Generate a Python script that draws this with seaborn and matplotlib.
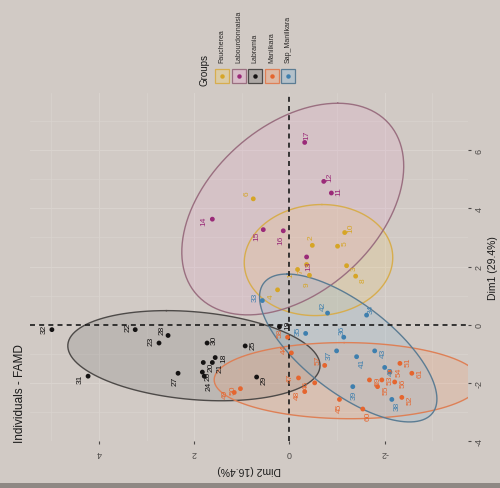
import numpy as np
import pandas as pd
import matplotlib
matplotlib.use("Agg")
import matplotlib.pyplot as plt
import seaborn as sns
from matplotlib.patches import Rectangle

# ---- data: FAMD individual coordinates (Dim1, Dim2) by group ----
groups = ["Faucherea", "Labourdonnaisia", "Labramia", "Manilkara", "Sap_Manilkara"]

faucherea_id = [1, 2, 3, 4, 5, 6, 7, 8, 9, 10]
faucherea_dim1 = [1.90, 2.73, 2.03, 1.20, 2.70, 4.33, 2.07, 1.67, 1.70, 3.17]
faucherea_dim2 = [-0.17, -0.48, -1.20, 0.25, -1.01, 0.76, -0.36, -1.39, -0.42, -1.16]

labourdonnaisia_id = [11, 12, 13, 14, 15, 16, 17]
labourdonnaisia_dim1 = [4.53, 4.93, 2.33, 3.63, 3.27, 3.23, 6.27]
labourdonnaisia_dim2 = [-0.88, -0.72, -0.36, 1.62, 0.55, 0.13, -0.32]

labramia_id = [18, 19, 20, 21, 22, 23, 24, 25, 26, 27, 28, 29, 30, 31, 32]
labramia_dim1 = [-1.13, -0.07, -1.30, -1.30, -0.17, -0.63, -1.77, -0.73,
                 -1.63, -1.67, -0.37, -1.80, -0.63, -1.77, -0.17]
labramia_dim2 = [1.56, 0.21, 1.81, 1.62, 3.24, 2.74, 1.79, 0.93,
                 1.83, 2.34, 2.55, 0.69, 1.73, 4.23, 4.99]

sap_id = [33, 34, 35, 36, 37, 38, 39, 40, 41, 42, 43]
sap_dim1 = [0.83, 0.33, -0.30, -0.43, -0.90, -2.57, -2.13, -1.47, -1.10, 0.40, -0.90]
sap_dim2 = [0.57, -1.62, -0.34, -1.14, -0.99, -2.15, -1.33, -2.00, -1.41, -0.80, -1.79]

manilkara_id = [44, 45, 46, 47, 48, 49, 50, 51, 52, 53, 54, 55, 56, 57, 58, 59, 60, 61]
manilkara_dim1 = [-0.97, -2.57, -2.00, -1.83, -2.30, -2.33, -2.20, -1.33, -2.50,
                  -1.90, -1.63, -2.13, -1.97, -1.40, -0.43, -1.90, -2.90, -1.67]
manilkara_dim2 = [-0.04, -1.05, -0.53, -0.19, -0.32, 1.16, 1.03, -2.32, -2.36,
                  -1.94, -2.11, -1.85, -2.21, -0.74, 0.04, -1.68, -1.54, -2.57]

dim1_ticks = [-4, -2, 0, 2, 4, 6]
dim2_ticks = [-2, 0, 2, 4]

point_colors = {"Faucherea": "#d6a526", "Labourdonnaisia": "#9a2a78",
                "Labramia": "#151313", "Manilkara": "#e5652e",
                "Sap_Manilkara": "#3e7fae"}
line_colors = {"Faucherea": "#d7ad4e", "Labourdonnaisia": "#9a6f80",
               "Labramia": "#4d4a48", "Manilkara": "#de8056",
               "Sap_Manilkara": "#5b7c93"}
fill_colors = {"Faucherea": "#f0cd6a", "Labourdonnaisia": "#e7a3cf",
               "Labramia": "#6b6b6b", "Manilkara": "#f59a6a",
               "Sap_Manilkara": "#7fb2d6"}

frames = []
for g, ids, d1, d2 in [
    ("Faucherea", faucherea_id, faucherea_dim1, faucherea_dim2),
    ("Labourdonnaisia", labourdonnaisia_id, labourdonnaisia_dim1, labourdonnaisia_dim2),
    ("Labramia", labramia_id, labramia_dim1, labramia_dim2),
    ("Manilkara", manilkara_id, manilkara_dim1, manilkara_dim2),
    ("Sap_Manilkara", sap_id, sap_dim1, sap_dim2),
]:
    frames.append(pd.DataFrame({"id": ids, "group": g, "dim1": d1, "dim2": d2}))
df = pd.concat(frames, ignore_index=True)


def cov_trob(x, nu=5, maxit=25, tol=0.01):
    """Multivariate-t robust location/scatter (as MASS::cov.trob)."""
    n, p = x.shape
    loc = x.mean(axis=0)
    w = np.ones(n)
    for _ in range(maxit):
        w0 = w
        X = x - loc
        _, d, vt = np.linalg.svd(np.sqrt(w / w.sum())[:, None] * X, full_matrices=False)
        wX = X @ vt.T @ np.diag(1 / d)
        Q = (wX ** 2).sum(axis=1)
        w = (nu + p) / (nu + Q)
        loc = (w[:, None] * x).sum(axis=0) / w.sum()
        if np.all(np.abs(w - w0) < tol):
            break
    X = x - loc
    cov = (np.sqrt(w)[:, None] * X).T @ (np.sqrt(w)[:, None] * X) / n
    return loc, cov


def t_ellipse(x, y, level=0.95, segments=120):
    """Data ellipse as drawn by stat_ellipse(type='t')."""
    pts = np.column_stack([x, y])
    n = len(pts)
    center, cov = cov_trob(pts)
    dfd = n - 1
    qf = dfd / 2.0 * ((1 - level) ** (-2.0 / dfd) - 1)   # F(level; 2, dfd)
    radius = np.sqrt(2 * qf)
    t = np.linspace(0, 2 * np.pi, segments)
    unit = np.column_stack([np.cos(t), np.sin(t)])
    upper = np.linalg.cholesky(cov).T
    return center + radius * unit @ upper


bg = "#d1cac5"
plt.rcParams["font.family"] = ["Liberation Sans", "DejaVu Sans"]

W, H = 500, 489
DPI = 100
fig = plt.figure(figsize=(W / DPI, H / DPI), dpi=DPI, facecolor=bg)


def fx(px):
    return px / W


def fy(py):
    return 1 - py / H


# The page is viewed turned a quarter turn: Dim1 runs upward, Dim2 runs leftward.
ax = fig.add_axes([fx(30), fy(442), fx(468) - fx(30), fy(94) - fy(442)])
ax.set_facecolor(bg)
for s in ax.spines.values():
    s.set_visible(False)

ax.set_xlim(5.45, -3.75)
ax.set_ylim(-3.63, 7.97)

# grid (theme_minimal style)
for v in np.arange(-3, 6, 1.0):
    ax.axvline(v, color="#d9d3ce", lw=0.5 if v % 2 else 0.8, zorder=0)
for v in np.arange(-3, 8, 1.0):
    ax.axhline(v, color="#d9d3ce", lw=0.5 if v % 2 else 0.8, zorder=0)

# ellipses
for g in groups:
    sub = df[df.group == g]
    e = t_ellipse(sub.dim1.values, sub.dim2.values)
    ax.fill(e[:, 1], e[:, 0], color=fill_colors[g], alpha=0.2, lw=0, zorder=1)
    ax.plot(e[:, 1], e[:, 0], color=line_colors[g], lw=1.0, zorder=2)

# reference lines
ax.axhline(0, color="#1a1a1a", ls=(0, (3, 2.5)), lw=1.2, zorder=3)
ax.axvline(0, color="#1a1a1a", ls=(0, (3, 2.5)), lw=1.2, zorder=3)

sns.scatterplot(data=df, x="dim2", y="dim1", hue="group", hue_order=groups,
                palette=point_colors, s=12, edgecolor="none", legend=False,
                ax=ax, zorder=4)

# labels, pushed away from each group's centre, then spread apart
fig.canvas.draw()
tr = ax.transData
anns = []
for g in groups:
    sub = df[df.group == g]
    c = tr.transform(np.column_stack([sub.dim2.mean(), sub.dim1.mean()]))[0]
    for _, r in sub.iterrows():
        p = tr.transform((r.dim2, r.dim1))
        d = p - c
        n = np.hypot(*d)
        d = np.array([-0.6, 0.8]) if n < 4 else d / n
        anns.append(ax.annotate(str(int(r.id)), (r.dim2, r.dim1),
                                xytext=(d[0] * 6, d[1] * 6), textcoords="offset points",
                                rotation=90, fontsize=6, color=point_colors[g],
                                ha="center", va="center", zorder=5))

renderer = fig.canvas.get_renderer()
px2pt = 72.0 / DPI
for _ in range(80):
    boxes = [a.get_window_extent(renderer) for a in anns]
    shifts = np.zeros((len(anns), 2))
    for i in range(len(anns)):
        for j in range(i + 1, len(anns)):
            bi, bj = boxes[i], boxes[j]
            ox = min(bi.x1, bj.x1) - max(bi.x0, bj.x0)
            oy = min(bi.y1, bj.y1) - max(bi.y0, bj.y0)
            if ox > 0 and oy > 0:
                if ox < oy:
                    sgn = 1 if (bi.x0 + bi.x1) < (bj.x0 + bj.x1) else -1
                    shifts[i, 0] -= sgn * (ox / 2 + 0.3)
                    shifts[j, 0] += sgn * (ox / 2 + 0.3)
                else:
                    sgn = 1 if (bi.y0 + bi.y1) < (bj.y0 + bj.y1) else -1
                    shifts[i, 1] -= sgn * (oy / 2 + 0.3)
                    shifts[j, 1] += sgn * (oy / 2 + 0.3)
    if not shifts.any():
        break
    for a, sh in zip(anns, shifts):
        ox, oy = a.xyann
        a.xyann = (ox + sh[0] * px2pt, oy + sh[1] * px2pt)

# axes text
ax.set_xticks(dim2_ticks)
ax.set_yticks(dim1_ticks)
ax.set_xticklabels([str(t) for t in dim2_ticks])
ax.set_yticklabels([str(t) for t in dim1_ticks])
ax.yaxis.tick_right()
ax.yaxis.set_label_position("right")
ax.tick_params(axis="x", labelrotation=180, labelsize=6.5, colors="#4d4a48",
               length=2, pad=3)
ax.tick_params(axis="y", labelrotation=90, labelsize=6.5, colors="#4d4a48",
               length=2, pad=3)
for lab in ax.get_yticklabels():
    lab.set_verticalalignment("center")
ax.set_xlabel("Dim2 (16.4%)", rotation=180, fontsize=7.5, color="#1a1a1a", labelpad=5)
ax.set_ylabel("Dim1 (29.4%)", rotation=90, fontsize=7.5, color="#1a1a1a", labelpad=3)

fig.text(fx(20), fy(443), "Individuals - FAMD", rotation=90, fontsize=8.5,
         color="#1a1a1a", ha="center", va="bottom")

# legend
fig.text(fx(204), fy(86), "Groups", rotation=90, fontsize=7, color="#1a1a1a",
         ha="center", va="bottom")
key = 14
for i, g in enumerate(groups):
    cx = 222 + 16.5 * i
    cy = 77
    fig.add_artist(Rectangle((fx(cx - key / 2), fy(cy + key / 2)), key / W, key / H,
                             transform=fig.transFigure, facecolor=bg,
                             edgecolor="none", zorder=1))
    fig.add_artist(Rectangle((fx(cx - key / 2), fy(cy + key / 2)), key / W, key / H,
                             transform=fig.transFigure, facecolor=fill_colors[g],
                             alpha=0.35, edgecolor="none", zorder=2))
    fig.add_artist(Rectangle((fx(cx - key / 2), fy(cy + key / 2)), key / W, key / H,
                             transform=fig.transFigure, facecolor="none",
                             edgecolor=line_colors[g], lw=0.9, zorder=3))
    fig.add_artist(plt.Line2D([fx(cx)], [fy(cy)], marker="o", ms=2.2,
                              color=point_colors[g], transform=fig.transFigure,
                              zorder=4))
    fig.text(fx(cx), fy(63), g, rotation=90, fontsize=5, color="#2a2827",
             ha="center", va="bottom")

# darker table edge along the bottom of the sheet
fig.add_artist(Rectangle((0, 0), 1, 5 / H, transform=fig.transFigure,
                         facecolor="#8e8884", edgecolor="none"))

fig.savefig("out.png", dpi=DPI, facecolor=bg)
